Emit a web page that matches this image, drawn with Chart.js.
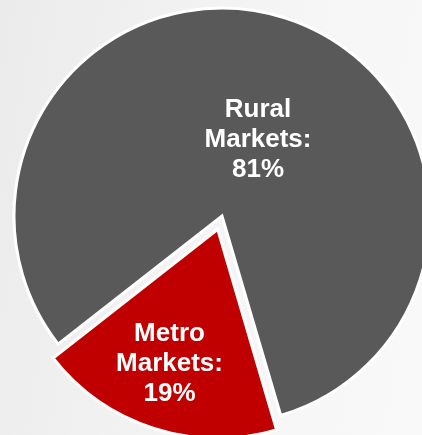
<!DOCTYPE html>
<html>
<head>
<meta charset="utf-8">
<script src="https://cdn.jsdelivr.net/npm/chart.js@4/dist/chart.umd.min.js"></script>
<style>
  html, body { margin: 0; padding: 0; }
  body {
    width: 422px; height: 435px; overflow: hidden;
    background: linear-gradient(100deg, #ebebec 0%, #f1f1f2 35%, #f6f6f7 65%, #f9f9fa 100%);
  }
  #wrap { position: relative; width: 422px; height: 435px; }
  canvas { display: block; }
</style>
</head>
<body>
<div id="wrap"><canvas id="c" width="422" height="435"></canvas></div>
<script>
// ---- data ----
const categories = ['Rural Markets', 'Metro Markets'];
const shares = [81, 19];
const sliceColors = ['#595959', '#C00000'];
const sliceOffsets = [0, 56];

// label placement relative to each slice (fraction of radius, angle shift in degrees)
const labelRadius = [0.405, 0.68];
const labelAngleShift = [7.5, 2];

const labelPlugin = {
  id: 'sliceLabels',
  afterDatasetsDraw(chart) {
    const ctx = chart.ctx;
    const meta = chart.getDatasetMeta(0);
    ctx.save();
    ctx.fillStyle = '#ffffff';
    ctx.font = 'bold 26px "Liberation Sans", Arial, sans-serif';
    ctx.textAlign = 'center';
    ctx.textBaseline = 'middle';
    meta.data.forEach((arc, i) => {
      const p = arc.getProps(['x', 'y', 'startAngle', 'endAngle', 'outerRadius', 'circumference']);
      const half = (p.startAngle + p.endAngle) / 2;
      const off = (sliceOffsets[i] || 0) / 4;
      const fix = 1 - Math.sin(Math.min(Math.PI, p.circumference || 0));
      const tr = off * (1 + fix);
      const cx = p.x + Math.cos(half) * tr;
      const cy = p.y + Math.sin(half) * tr;
      const a = half + labelAngleShift[i] * Math.PI / 180;
      const r = p.outerRadius * labelRadius[i];
      const lx = cx + Math.cos(a) * r;
      const ly = cy + Math.sin(a) * r;
      const words = categories[i].split(' ');
      const lines = [words[0], words.slice(1).join(' ') + ':', shares[i] + '%'];
      const lh = 30;
      lines.forEach((t, k) => {
        ctx.fillText(t, lx, ly + (k - 1) * lh);
      });
    });
    ctx.restore();
  }
};

new Chart(document.getElementById('c'), {
  type: 'pie',
  data: {
    labels: categories,
    datasets: [{
      data: shares,
      backgroundColor: sliceColors,
      borderColor: '#ffffff',
      borderWidth: 3,
      borderJoinStyle: 'miter',
      offset: sliceOffsets,
      hoverOffset: 0
    }]
  },
  options: {
    responsive: false,
    animation: false,
    events: [],
    rotation: 232,
    radius: 208,
    layout: { padding: { left: 22, right: 0, top: 0, bottom: 3 } },
    plugins: {
      legend: { display: false },
      tooltip: { enabled: false }
    }
  },
  plugins: [labelPlugin]
});
</script>
</body>
</html>
